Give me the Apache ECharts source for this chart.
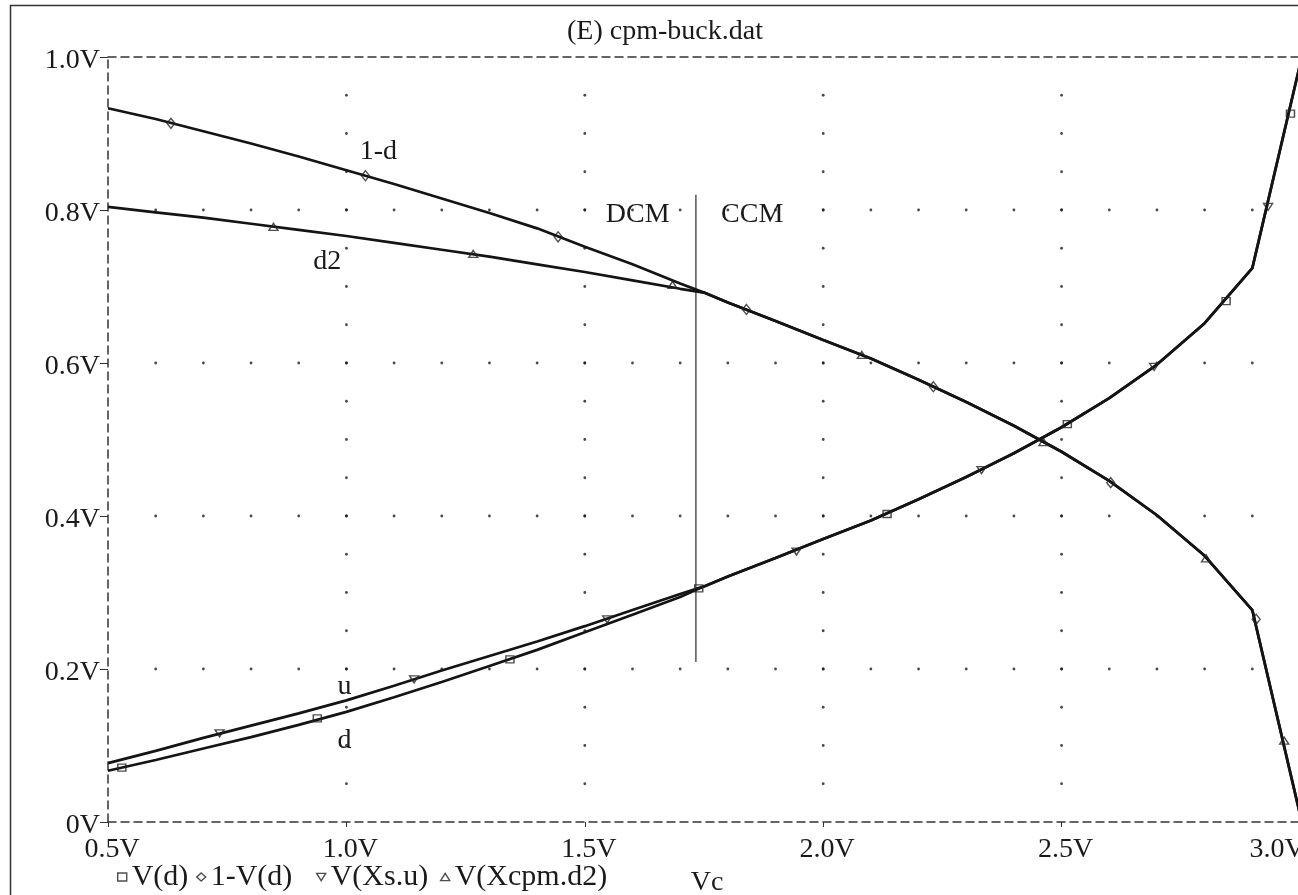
<!DOCTYPE html>
<html>
<head>
<meta charset="utf-8">
<script src="https://cdn.jsdelivr.net/npm/echarts@6/dist/echarts.min.js"></script>
<style>
  html, body { margin: 0; padding: 0; background: #fff; }
  #chart { width: 1298px; height: 895px; }
</style>
</head>
<body>
<div id="chart"></div>
<script>
// Sweep of the control voltage Vc (V)
const vc        = [0.5, 0.6, 0.7, 0.8, 0.9, 1.0, 1.1, 1.2, 1.3, 1.4, 1.5, 1.6, 1.7, 1.75, 1.8, 1.9, 2.0, 2.1, 2.2, 2.3, 2.4, 2.5, 2.6, 2.7, 2.8, 2.9, 3.0];
// V(d): duty cycle
const vD        = [0.067, 0.081, 0.096, 0.111, 0.127, 0.144, 0.163, 0.183, 0.204, 0.225, 0.248, 0.271, 0.294, 0.308, 0.321, 0.345, 0.370, 0.394, 0.422, 0.451, 0.482, 0.516, 0.554, 0.598, 0.652, 0.724, 0.990];
// 1-V(d)
const vOneMinusD= [0.933, 0.919, 0.903, 0.887, 0.870, 0.852, 0.834, 0.815, 0.796, 0.776, 0.752, 0.729, 0.704, 0.692, 0.679, 0.655, 0.630, 0.606, 0.578, 0.549, 0.518, 0.484, 0.446, 0.401, 0.348, 0.277, 0.010];
// V(Xs.u)
const vU        = [0.077, 0.093, 0.110, 0.126, 0.142, 0.159, 0.178, 0.198, 0.217, 0.236, 0.256, 0.277, 0.298, 0.308, 0.321, 0.345, 0.370, 0.394, 0.422, 0.451, 0.482, 0.516, 0.554, 0.598, 0.652, 0.724, 0.990];
// V(Xcpm.d2)
const vD2       = [0.804, 0.797, 0.790, 0.782, 0.774, 0.766, 0.757, 0.748, 0.739, 0.729, 0.719, 0.708, 0.697, 0.692, 0.679, 0.655, 0.630, 0.606, 0.578, 0.549, 0.518, 0.484, 0.446, 0.401, 0.348, 0.277, 0.010];

// Trace marker positions [Vc, value]
const marksD        = [[0.529, 0.071], [0.939, 0.1355], [1.343, 0.2127], [1.739, 0.3055], [2.134, 0.4026], [2.512, 0.520], [2.845, 0.681], [2.980, 0.926]];
const marksOneMinusD= [[0.632, 0.9133], [1.040, 0.8448], [1.444, 0.765], [1.839, 0.670], [2.231, 0.569], [2.603, 0.4436], [2.908, 0.265]];
const marksU        = [[0.734, 0.116], [1.142, 0.1865], [1.547, 0.265], [1.944, 0.3534], [2.332, 0.460], [2.694, 0.595], [2.933, 0.804]];
const marksD2       = [[0.847, 0.778], [1.266, 0.7425], [1.684, 0.702], [2.081, 0.6105], [2.462, 0.4967], [2.803, 0.3447], [2.967, 0.1063]];

// DCM / CCM boundary
const boundaryVc = 1.733;
const boundarySpan = [0.209, 0.82];

// Axis ticks
const xMajor = [0.5, 1.0, 1.5, 2.0, 2.5, 3.0];
const yMajor = [0, 0.2, 0.4, 0.6, 0.8, 1.0];
const xMinorStep = 0.1;
const yMinorStep = 0.05;

// Trace annotations [text, Vc, value]
const annotations = [
  ['1-d', 1.067, 0.876],
  ['d2',  0.960, 0.732],
  ['u',   0.996, 0.1765],
  ['d',   0.996, 0.107],
  ['DCM', 1.611, 0.7935],
  ['CCM', 1.851, 0.7935]
];

const FONT = '"Liberation Serif", "Times New Roman", serif';
const INK = '#1a1a1a';

function zip(xs, ys) { return xs.map((x, i) => [x, ys[i]]); }

// dotted grid: dots on each inner major line at every minor step
const gridDots = [];
xMajor.slice(1, -1).forEach(x => {
  for (let k = 1; k < Math.round(1 / yMinorStep); k++) gridDots.push([x, +(k * yMinorStep).toFixed(3)]);
});
yMajor.slice(1, -1).forEach(y => {
  const n = Math.round((xMajor[xMajor.length - 1] - xMajor[0]) / xMinorStep);
  for (let k = 1; k < n; k++) gridDots.push([+(xMajor[0] + k * xMinorStep).toFixed(3), y]);
});

const triDown = 'path://M0,0L10,0L5,8Z';
const triUp = 'path://M5,0L10,8L0,8Z';
const markStyle = { color: 'transparent', borderColor: '#222', borderWidth: 1.4 };
const traceStyle = { color: '#141414', width: 2.7 };

function markerSeries(name, data, symbol, size) {
  return {
    name, type: 'scatter', data, symbol, symbolSize: size,
    itemStyle: markStyle, z: 4, silent: true
  };
}
function traceSeries(name, ys) {
  return {
    name, type: 'line', data: zip(vc, ys), showSymbol: false, symbol: 'none',
    lineStyle: traceStyle, itemStyle: { color: '#141414' }, z: 3, silent: true
  };
}

function legendAt(left, name, icon) {
  return {
    left, top: 862, padding: 0, itemWidth: 9, itemHeight: 8, selectedMode: false,
    data: [{ name, icon, itemStyle: markStyle }],
    textStyle: { fontFamily: FONT, fontSize: 30, color: INK }
  };
}

const chart = echarts.init(document.getElementById('chart'), null, { renderer: 'canvas' });
const dash = { color: '#333', width: 1.5, type: [8, 5] };
const labelText = { fontFamily: FONT, fontSize: 28, color: INK };

chart.setOption({
  backgroundColor: '#fff',
  animation: false,
  title: {
    text: '(E) cpm-buck.dat', left: 562, top: 13,
    textStyle: { fontFamily: FONT, fontSize: 28, fontWeight: 'normal', color: INK }
  },
  legend: [
    legendAt(117, 'V(d)', 'rect'),
    legendAt(196, '1-V(d)', 'diamond'),
    legendAt(316, 'V(Xs.u)', triDown),
    legendAt(440, 'V(Xcpm.d2)', triUp)
  ],
  grid: { left: 108, top: 57, width: 1192, height: 765, containLabel: false, outerBoundsMode: 'none' },
  xAxis: [{
    type: 'value', min: 0.5, max: 3.0, interval: 0.5, position: 'bottom',
    name: 'Vc', nameLocation: 'middle', nameGap: 41,
    nameTextStyle: { fontFamily: FONT, fontSize: 28, color: INK, padding: [0, 0, 0, 6] },
    axisLine: { show: true, onZero: false, lineStyle: dash },
    axisTick: { show: true, inside: false, length: 5, lineStyle: { color: '#333', width: 1 } },
    axisLabel: {
      margin: 14, fontFamily: FONT, fontSize: 28, color: INK, hideOverlap: false,
      showMinLabel: true, showMaxLabel: true,
      formatter: v => (v === 3 ? '{last|' : '{n|') + v.toFixed(1) + 'V}',
      rich: {
        n: Object.assign({ padding: [0, 0, 0, 8] }, labelText),
        last: Object.assign({ padding: [0, 46, 0, 0] }, labelText)
      }
    },
    splitLine: { show: false }
  }, {
    type: 'value', min: 0.5, max: 3.0, interval: 0.5, position: 'top',
    axisLine: { show: true, onZero: false, lineStyle: dash },
    axisTick: { show: false }, axisLabel: { show: false }, splitLine: { show: false }
  }],
  yAxis: [{
    type: 'value', min: 0, max: 1.0, interval: 0.2, position: 'left',
    axisLine: { show: true, onZero: false, lineStyle: dash },
    axisTick: { show: true, inside: false, length: 8, lineStyle: { color: '#333', width: 1 } },
    axisLabel: {
      margin: 8, fontFamily: FONT, fontSize: 28, color: INK,
      formatter: v => '{n|' + (v === 0 ? '0V' : v.toFixed(1) + 'V') + '}',
      rich: { n: Object.assign({ padding: [8, 0, 0, 0] }, labelText) }
    },
    splitLine: { show: false }
  }, {
    type: 'value', min: 0, max: 1.0, interval: 0.2, position: 'right',
    axisLine: { show: true, onZero: false, lineStyle: dash },
    axisTick: { show: false }, axisLabel: { show: false }, splitLine: { show: false }
  }],
  series: [
    markerSeries('V(d)', marksD, 'rect', [8, 7]),
    markerSeries('1-V(d)', marksOneMinusD, 'diamond', [8, 10]),
    markerSeries('V(Xs.u)', marksU, triDown, [9, 7]),
    markerSeries('V(Xcpm.d2)', marksD2, triUp, [9, 7]),
    traceSeries('V(d)', vD),
    traceSeries('1-V(d)', vOneMinusD),
    traceSeries('V(Xs.u)', vU),
    traceSeries('V(Xcpm.d2)', vD2),
    {
      name: 'grid', type: 'scatter', data: gridDots, symbol: 'circle', symbolSize: 2.8,
      itemStyle: { color: '#1c1c1c' }, z: 1, silent: true
    },
    {
      name: 'boundary', type: 'line', showSymbol: false, symbol: 'none',
      data: boundarySpan.map(y => [boundaryVc, y]),
      lineStyle: { color: '#555', width: 1.5 }, z: 2, silent: true
    }
  ]
});

// outer frame and trace annotations placed in data coordinates
const texts = annotations.map(([t, x, y]) => {
  const [px, py] = chart.convertToPixel({ gridIndex: 0 }, [x, y]);
  return {
    type: 'text', silent: true, z: 10, x: px, y: py,
    style: { text: t, fill: INK, font: '28px ' + FONT, align: 'center', verticalAlign: 'middle' }
  };
});
chart.setOption({
  graphic: [{
    type: 'rect', silent: true, z: -1,
    shape: { x: 10.5, y: 5.5, width: 1400, height: 1000 },
    style: { fill: 'none', stroke: '#333', lineWidth: 1.5 }
  }].concat(texts)
});
</script>
</body>
</html>
